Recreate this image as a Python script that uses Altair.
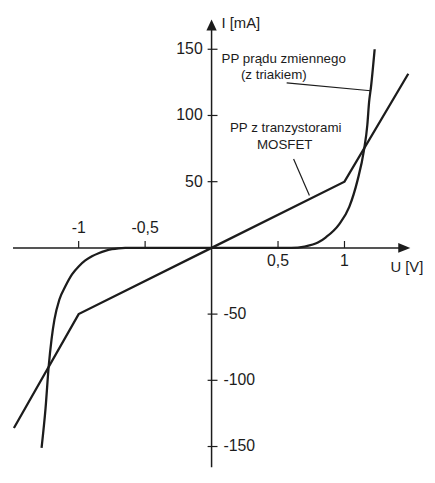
import altair as alt
import pandas as pd

# ---- data ----
mosfet_u = [-1.487, -1.0, 0.0, 1.0, 1.48]
mosfet_i = [-136, -50, 0, 50, 131.5]

triac_u = [-1.279, -1.249, -1.225, -1.204, -1.182, -1.145, -1.1, -1.05, -1.0, -0.95, -0.9, -0.85,
           -0.8, -0.75, -0.7, -0.65,
           0.0, 0.6, 0.7, 0.8, 0.86, 0.961, 1.036, 1.098, 1.147, 1.172, 1.185, 1.2, 1.227]
triac_i = [-151, -121, -89, -69, -54, -39, -29, -20, -14, -9.5, -6.3, -4,
           -2.2, -1, -0.3, 0,
           0, 0, 1, 4, 8, 18, 31, 51, 74, 93, 110, 122, 150]

xtick_neg_vals = [-1.0, -0.5]
xtick_neg_labels = ["-1", "-0,5"]
xtick_pos_vals = [0.5, 1.0]
xtick_pos_labels = ["0,5", "1"]
ytick_pos_vals = [150, 100, 50]
ytick_pos_labels = ["150", "100", "50"]
ytick_neg_vals = [-50, -100, -150]
ytick_neg_labels = ["-50", "-100", "-150"]

x_title = "U [V]"
y_title = "I [mA]"
triac_label = ["PP prądu zmiennego", "(z triakiem)"]
mosfet_label = ["PP z tranzystorami", "MOSFET"]

# ---- layout ----
W, H = 424, 462
XD = [-1.5316, 1.6208]
YD = [-165.67, 179.10]
PX = 134.5   # px per V
PY = 1.34    # px per mA
FONT = "Liberation Sans"
INK = "#1c1c1c"

xs = alt.Scale(domain=XD, nice=False, zero=False)
ys = alt.Scale(domain=YD, nice=False, zero=False)


def X(f):
    return alt.X(f, type="quantitative", scale=xs, axis=None)


def Y(f):
    return alt.Y(f, type="quantitative", scale=ys, axis=None)


# axes
axes_df = pd.DataFrame({
    "x": [-1.494, 0.0], "x2": [1.42, 0.0],
    "y": [0.0, -165.67], "y2": [0.0, 166.0],
})
axes = alt.Chart(axes_df).mark_rule(color=INK, strokeWidth=1.5).encode(
    x=X("x"), x2="x2", y=Y("y"), y2="y2")

# arrow heads
arr_x = alt.Chart(pd.DataFrame({"x": [(409 - 214) / PX], "y": [0.0]})).mark_point(
    shape="M-1,-0.8L1,0L-1,0.8Z", size=150, filled=True, opacity=1, color=INK
).encode(x=X("x"), y=Y("y"))
arr_y = alt.Chart(pd.DataFrame({"x": [0.0], "y": [(248 - 23) / PY]})).mark_point(
    shape="M0,-1L0.85,0.8L-0.85,0.8Z", size=150, filled=True, opacity=1, color=INK
).encode(x=X("x"), y=Y("y"))

# ticks
xt_df = pd.DataFrame({"x": xtick_neg_vals + xtick_pos_vals})
xt_df["y"] = 0.0
xt_df["y2"] = 7 / PY
xticks = alt.Chart(xt_df).mark_rule(color=INK, strokeWidth=1.2).encode(
    x=X("x"), y=Y("y"), y2="y2")
yt_df = pd.DataFrame({"y": ytick_pos_vals + ytick_neg_vals})
yt_df["x"] = -4 / PX
yt_df["x2"] = 6 / PX
yticks = alt.Chart(yt_df).mark_rule(color=INK, strokeWidth=1.2).encode(
    y=Y("y"), x=X("x"), x2="x2")


def txt(df, align, baseline, size):
    return alt.Chart(df).mark_text(align=align, baseline=baseline, font=FONT,
                                   fontSize=size, color=INK).encode(
        x=X("x"), y=Y("y"), text="t:N")


xl_neg = txt(pd.DataFrame({"x": xtick_neg_vals, "y": [(248 - 233) / PY] * 2,
                           "t": xtick_neg_labels}), "center", "alphabetic", 16)
xl_pos = txt(pd.DataFrame({"x": xtick_pos_vals, "y": [(248 - 266) / PY] * 2,
                           "t": xtick_pos_labels}), "center", "alphabetic", 16)
yl_pos = txt(pd.DataFrame({"x": [(205 - 214) / PX] * 3, "y": ytick_pos_vals,
                           "t": ytick_pos_labels}), "right", "middle", 16)
yl_neg = txt(pd.DataFrame({"x": [(226 - 214) / PX] * 3, "y": ytick_neg_vals,
                           "t": ytick_neg_labels}), "left", "middle", 16)

# axis titles
xtitle = txt(pd.DataFrame({"x": [(395 - 214) / PX], "y": [(248 - 272) / PY], "t": [x_title]}),
             "left", "alphabetic", 15)
ytitle = txt(pd.DataFrame({"x": [(224 - 214) / PX], "y": [(248 - 25) / PY], "t": [y_title]}),
             "left", "alphabetic", 15)

# curves
mos = alt.Chart(pd.DataFrame({"u": mosfet_u, "i": mosfet_i})).mark_line(
    color=INK, strokeWidth=2.3, strokeJoin="miter").encode(x=X("u"), y=Y("i"))
tri = alt.Chart(pd.DataFrame({"u": triac_u, "i": triac_i})).mark_line(
    color=INK, strokeWidth=2.3, interpolate="monotone").encode(x=X("u"), y=Y("i"))

# annotation texts
ann = txt(pd.DataFrame({
    "x": [(287 - 214) / PX, (277 - 214) / PX, (289 - 214) / PX, (288 - 214) / PX],
    "y": [(248 - 61) / PY, (248 - 77) / PY, (248 - 131) / PY, (248 - 148) / PY],
    "t": triac_label + mosfet_label,
}), "center", "alphabetic", 13.5)

# leader lines
lead_df = pd.DataFrame({
    "x": [(290 - 214) / PX, (297 - 214) / PX],
    "y": [(248 - 81) / PY, (248 - 158) / PY],
    "x2": [(375 - 214) / PX, (313 - 214) / PX],
    "y2": [(248 - 89) / PY, (248 - 195) / PY],
})
leads = alt.Chart(lead_df).mark_rule(color=INK, strokeWidth=1.2).encode(
    x=X("x"), y=Y("y"), x2="x2", y2="y2")

chart = alt.layer(
    axes, xticks, yticks, arr_x, arr_y, mos, tri, leads,
    xl_neg, xl_pos, yl_pos, yl_neg, xtitle, ytitle, ann
).properties(
    width=W, height=H, autosize=alt.AutoSizeParams(type="none"), padding=0,
    background="white"
).configure_view(stroke=None)

chart.save("out.html", embed_options={"renderer": "svg", "actions": False})
